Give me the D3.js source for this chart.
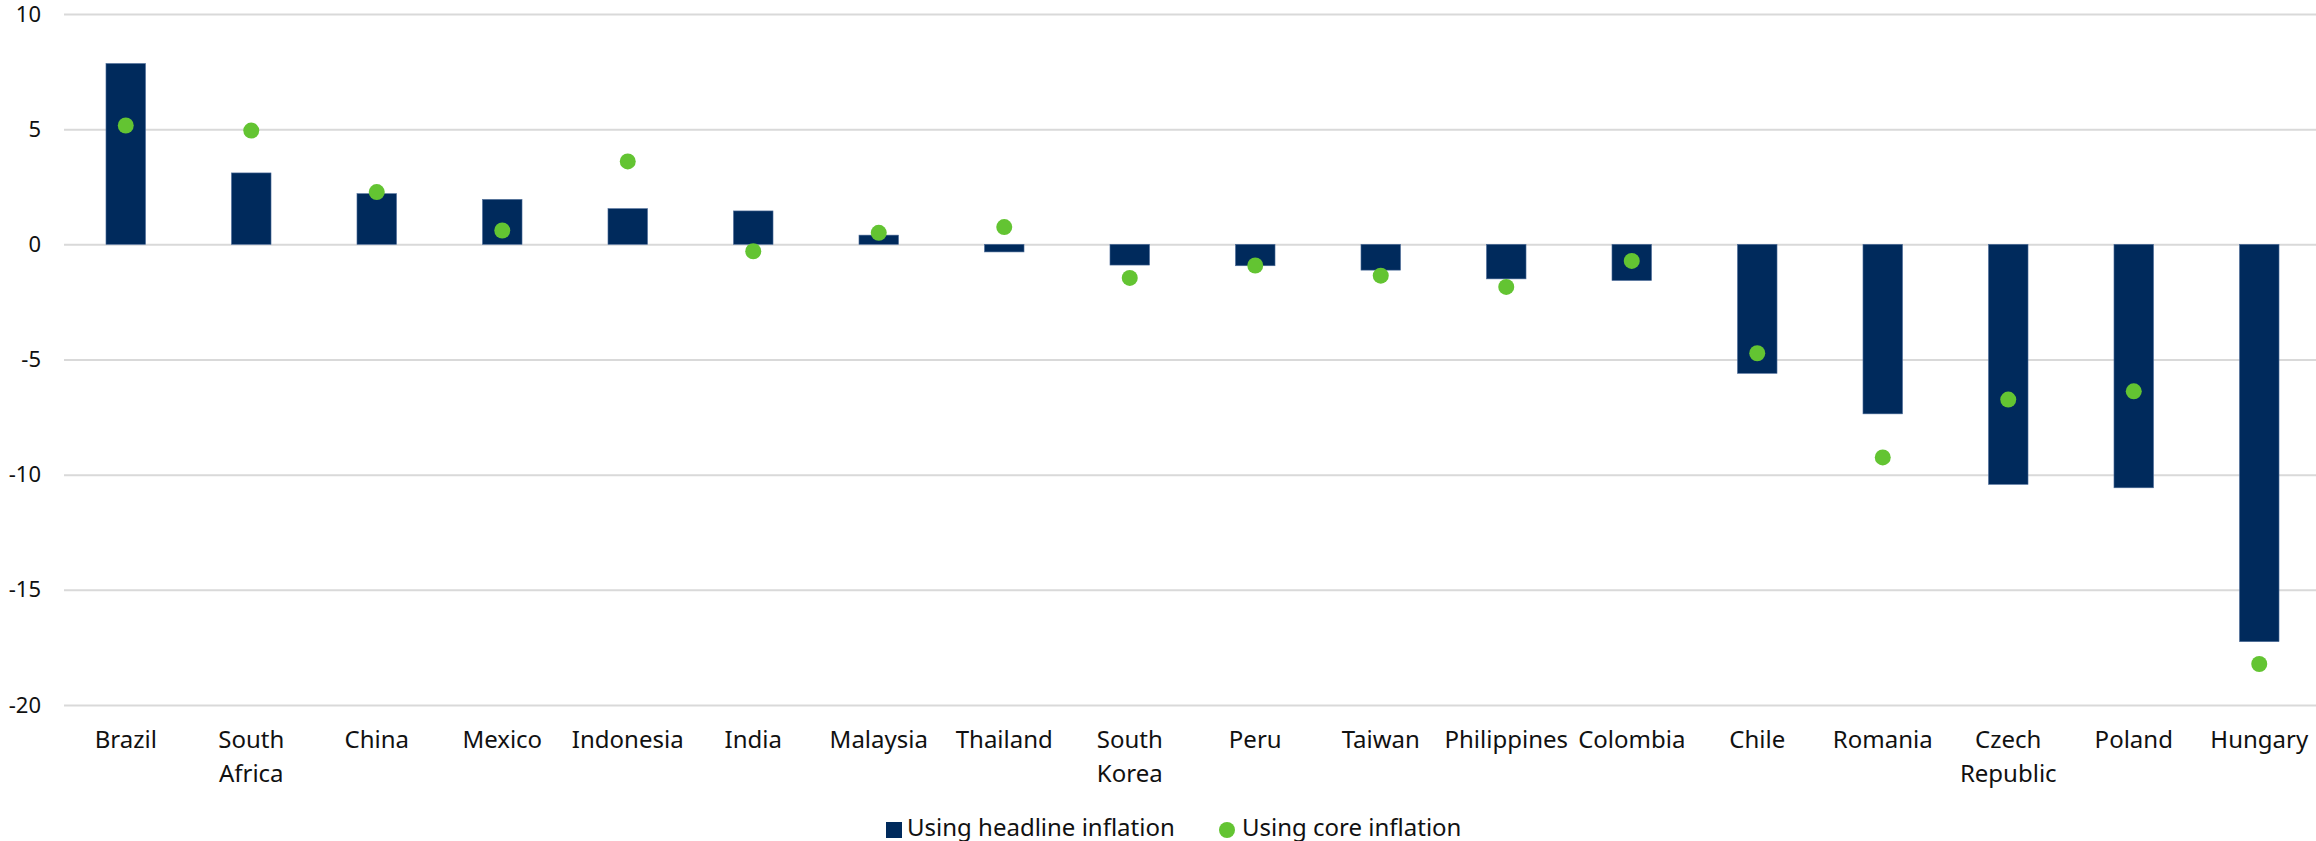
<!DOCTYPE html>
<html>
<head>
<meta charset="utf-8">
<script src="https://cdn.jsdelivr.net/npm/d3@7"></script>
<style>
  body { margin: 0; background: #fff; }
  svg text { font-family: "Noto Sans", "Open Sans", sans-serif; fill: #111; }
</style>
</head>
<body>
<svg id="chart"></svg>
<script>
// values
const countries = ["Brazil", "South Africa", "China", "Mexico", "Indonesia", "India", "Malaysia", "Thailand",
  "South Korea", "Peru", "Taiwan", "Philippines", "Colombia", "Chile", "Romania", "Czech Republic", "Poland", "Hungary"];
const headline = [7.85, 3.1, 2.2, 1.95, 1.55, 1.45, 0.4, -0.33, -0.9, -0.93, -1.12, -1.5, -1.57, -5.6, -7.36, -10.42, -10.57, -17.25];
const core = [5.16, 4.94, 2.27, 0.6, 3.6, -0.3, 0.5, 0.75, -1.46, -0.92, -1.36, -1.85, -0.72, -4.73, -9.25, -6.74, -6.38, -18.22];
const yTicks = [10, 5, 0, -5, -10, -15, -20];
const seriesNames = ["Using headline inflation", "Using core inflation"];

const width = 2316, height = 841;
const left = 64, right = 2316;
const svg = d3.select("#chart").attr("width", width).attr("height", height);

const data = countries.map((c, i) => ({ name: c, head: headline[i], core: core[i] }));

const y = d3.scaleLinear().domain([-20, 10]).range([705, 14]);

const x = d3.scaleBand()
  .domain(countries)
  .range([63, 2322])
  .paddingInner(0.685)
  .paddingOuter(0.3425);

// y axis + gridlines
const yAxis = svg.append("g")
  .attr("transform", `translate(${left},0)`)
  .call(d3.axisLeft(y).tickValues(yTicks).tickSize(-(right - left)).tickPadding(23).tickFormat(d => String(d)));
yAxis.select(".domain").remove();
yAxis.selectAll(".tick line").attr("stroke", "#d9d9d9").attr("stroke-width", 2);
yAxis.selectAll(".tick text")
  .style("font-size", "22px")
  .style("font-family", "'Noto Sans', sans-serif")
  .attr("fill", "#111");

// bars
svg.append("g")
  .selectAll("rect")
  .data(data)
  .enter()
  .append("rect")
  .attr("x", d => x(d.name))
  .attr("y", d => y(Math.max(0, d.head)))
  .attr("width", x.bandwidth())
  .attr("height", d => Math.abs(y(d.head) - y(0)))
  .attr("fill", "#002a5c")
  .attr("stroke", "#4d6d99")
  .attr("stroke-width", 0.6);

// core inflation dots
svg.append("g")
  .selectAll("circle")
  .data(data)
  .enter()
  .append("circle")
  .attr("cx", d => x(d.name) + x.bandwidth() / 2)
  .attr("cy", d => y(d.core))
  .attr("r", 8)
  .attr("fill", "#63c432");

// x axis labels (wrapped at spaces)
const xAxis = svg.append("g")
  .attr("transform", "translate(0,705)")
  .call(d3.axisBottom(x).tickSize(0).tickPadding(0));
xAxis.select(".domain").remove();
xAxis.selectAll(".tick text").each(function (d) {
  const t = d3.select(this);
  const words = d.split(" ");
  t.text(null)
    .attr("y", 43)
    .attr("dy", null)
    .style("font-size", "24px")
    .style("font-family", "'Noto Sans', sans-serif")
    .attr("fill", "#111");
  words.forEach((w, i) => {
    t.append("tspan").attr("x", 0).attr("y", 43 + i * 34).text(w);
  });
});

// legend
const legend = svg.append("g");
legend.append("rect").attr("x", 886).attr("y", 822).attr("width", 16).attr("height", 16).attr("fill", "#002a5c");
legend.append("text").attr("x", 907).attr("y", 836).style("font-size", "24px").text(seriesNames[0]);
legend.append("circle").attr("cx", 1227).attr("cy", 830).attr("r", 8).attr("fill", "#63c432");
legend.append("text").attr("x", 1242).attr("y", 836).style("font-size", "24px").text(seriesNames[1]);
</script>
</body>
</html>
